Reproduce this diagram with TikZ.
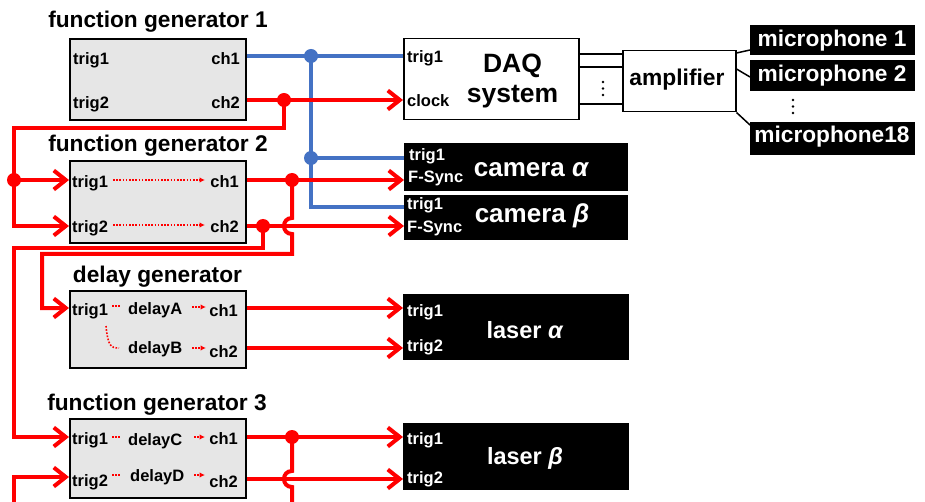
\documentclass[tikz,border=0pt]{standalone}
\usepackage{fontspec}
\setmainfont{Liberation Sans}
\usetikzlibrary{arrows.meta}
\definecolor{sigred}{RGB}{255,0,0}
\definecolor{sigblue}{RGB}{68,114,196}
\definecolor{boxgray}{RGB}{230,230,230}
\newcommand{\fsz}[1]{\fontsize{#1}{#1}\selectfont\bfseries}
\begin{document}
\begin{tikzpicture}[x=1pt,y=-1pt,
  devbox/.style={draw=black, line width=2pt, fill=boxgray, anchor=north west, inner sep=0, minimum width=176pt},
  whitebox/.style={draw=black, line width=1.5pt, fill=white, anchor=north west, inner sep=0},
  blackbox/.style={fill=black, anchor=north west, inner sep=0},
  heading/.style={font=\fsz{22.7}, inner sep=0, anchor=base},
  port/.style={font=\fsz{16.5}, inner sep=0},
  portl/.style={port, anchor=base west},
  portr/.style={port, anchor=base east},
  wport/.style={portl, text=white},
  bigw/.style={inner sep=0, anchor=base, text=white},
  sig/.style={draw=sigred, line width=4pt},
  trg/.style={draw=sigblue, line width=3.5pt},
  arr/.style={-{Straight Barb[length=12pt,width=19pt]}},
  dotsig/.style={draw=sigred, line width=1.6pt, dash pattern=on 1.6pt off 1.6pt},
  dotarr/.style={dotsig, -{Latex[length=5.5pt,width=5.5pt]}},
  wire/.style={draw=black, line width=1.5pt},
]
\path[use as bounding box, fill=white] (0,0) rectangle (925,502);

% ---------- devices ----------
\node[devbox, minimum height=81pt] (fg1) at (69,38) {};
\node[devbox, minimum height=82pt] (fg2) at (69,160) {};
\node[devbox, minimum height=77pt] (dg) at (69,290) {};
\node[devbox, minimum height=79pt] (fg3) at (69,418) {};
\node[whitebox, minimum width=175pt, minimum height=81pt] (daq) at (403,38) {};
\node[whitebox, minimum width=113pt, minimum height=61pt] (amp) at (622,50) {};
\node[blackbox, minimum width=165pt, minimum height=30pt] (mic1) at (750,25) {};
\node[blackbox, minimum width=165pt, minimum height=31pt] (mic2) at (750,60) {};
\node[blackbox, minimum width=165pt, minimum height=33pt] (mic18) at (750,122) {};
\node[blackbox, minimum width=224pt, minimum height=48pt] (camA) at (404,143) {};
\node[blackbox, minimum width=224pt, minimum height=45pt] (camB) at (404,195) {};
\node[blackbox, minimum width=226pt, minimum height=66pt] (lasA) at (403,294) {};
\node[blackbox, minimum width=226pt, minimum height=67pt] (lasB) at (403,423) {};

% ---------- headings ----------
\node[heading] (h1) at (158,28) {function generator 1};
\node[heading] (h2) at (158,152) {function generator 2};
\node[heading] (h3) at (157.5,283) {delay generator};
\node[heading] (h4) at (157,410) {function generator 3};

% ---------- function generator 1 ----------
\node[portl] (g1i1) at (73,65) {trig1};
\node[portr] (g1o1) at (240,65) {ch1};
\node[portl] (g1i2) at (73,109) {trig2};
\node[portr] (g1o2) at (240,109) {ch2};

% ---------- function generator 2 ----------
\node[portl] (g2i1) at (72,188) {trig1};
\node[portr] (g2o1) at (239,188) {ch1};
\node[portl] (g2i2) at (72,233) {trig2};
\node[portr] (g2o2) at (239,233) {ch2};
\draw[dotarr] (113,180) -- (205,180);
\draw[dotarr] (113,225) -- (205,225);

% ---------- delay generator ----------
\node[portl] (dgi1) at (72,315) {trig1};
\node[portl] (dgA) at (128,314) {delayA};
\node[portr] (dgo1) at (238,316) {ch1};
\node[portl] (dgB) at (128,353) {delayB};
\node[portr] (dgo2) at (238,357) {ch2};
\draw[dotsig] (112,306) -- (121,306);
\draw[dotarr] (192,307) -- (206,307);
\draw[dotsig] (106,326) .. controls (108,345) and (110,348) .. (119,348);
\draw[dotarr] (192,348) -- (206,348);

% ---------- function generator 3 ----------
\node[portl] (g3i1) at (72,444) {trig1};
\node[portl] (g3C) at (128,445) {delayC};
\node[portr] (g3o1) at (238,444) {ch1};
\node[portl] (g3i2) at (72,486) {trig2};
\node[portl] (g3D) at (130,481) {delayD};
\node[portr] (g3o2) at (238,487) {ch2};
\draw[dotsig] (112,437) -- (121,437);
\draw[dotarr] (194,437) -- (205,437);
\draw[dotsig] (112,475) -- (121,475);
\draw[dotarr] (194,475) -- (205,475);

% ---------- DAQ system ----------
\node[portl] (dqi1) at (407,63) {trig1};
\node[portl] (dqclk) at (407,107) {clock};
\node[inner sep=0, anchor=base, font=\fsz{26.5}] (dq1) at (512.5,73) {DAQ};
\node[inner sep=0, anchor=base, font=\fsz{26.5}] (dq2) at (512.5,103) {system};

% ---------- amplifier and microphones ----------
\node[inner sep=0, anchor=base, font=\fsz{22.8}] (ampl) at (677,86) {amplifier};
\node[bigw, font=\fsz{22.7}] (m1) at (832,47) {microphone 1};
\node[bigw, font=\fsz{22.7}] (m2) at (832,82) {microphone 2};
\node[bigw, font=\fsz{22.7}] (m18) at (832,143) {microphone18};

% ---------- cameras ----------
\node[wport] (cai1) at (409,161) {trig1};
\node[wport] (cafs) at (408,183) {F-Sync};
\node[bigw, font=\fsz{26}] (cal) at (531.5,177) {camera \textit{α}};
\node[wport] (cbi1) at (407,210) {trig1};
\node[wport] (cbfs) at (407,233) {F-Sync};
\node[bigw, font=\fsz{26}] (cbl) at (532,223) {camera \textit{β}};

% ---------- lasers ----------
\node[wport] (lai1) at (407,316) {trig1};
\node[wport] (lai2) at (407,351) {trig2};
\node[bigw, font=\fsz{23.5}] (lal) at (525,338) {laser \textit{α}};
\node[wport] (lbi1) at (407,444) {trig1};
\node[wport] (lbi2) at (407,483) {trig2};
\node[bigw, font=\fsz{23.5}] (lbl) at (525,464) {laser \textit{β}};

% ---------- DAQ to amplifier to microphones ----------
\draw[wire] (daq.east |- 0,54) -- (amp.west |- 0,54);
\draw[wire] (daq.east |- 0,67) -- (amp.west |- 0,67);
\draw[wire] (daq.east |- 0,104) -- (amp.west |- 0,104);
\draw[wire] (amp.east |- 0,53) -- (mic1.west |- 0,50);
\draw[wire] (amp.east |- 0,69) -- (mic2.west |- 0,77);
\draw[wire] (amp.south east) -- (mic18.west |- 0,125);
\foreach \yy in {82,88.5,95} \fill (603,\yy) circle (1.3pt);
\foreach \yy in {100,106.5,113} \fill (793,\yy) circle (1.3pt);

% ---------- junctions ----------
\coordinate (bj1) at (311,56);
\coordinate (bj2) at (311,158);
\coordinate (bc) at (311,207);
\coordinate (rj1) at (284,100);
\coordinate (lj) at (14,180);
\coordinate (rj2) at (292,180);
\coordinate (rj3) at (263,226);
\coordinate (rj4) at (292,437);

% ---------- trigger lines (blue) ----------
\draw[trg] (fg1.east |- bj1) -- (daq.west |- bj1);
\draw[trg] (bj1) -- (bc) -- (camB.west |- bc);
\draw[trg] (bj2) -- (camA.west |- bj2);

% ---------- signal lines (red) ----------
\draw[sig, arr] (fg1.east |- rj1) -- (daq.west |- rj1);
\draw[sig, arr] (rj1) -- (284,128) -| (14,226) -- (fg2.west |- 0,226);
\draw[sig, arr] (lj) -- (fg2.west |- lj);

\draw[sig, arr] (fg2.east |- rj2) -- (camA.west |- rj2);
\draw[sig, arr] (fg2.east |- rj3) -- (camB.west |- rj3);
\draw[sig, arr] (rj3) |- (14,248) -- (14,437) -- (fg3.west |- 0,437);
\draw[sig, arr] (rj2) -- (292,218) .. controls (281.3,218) and (281.3,234) .. (292,234)
   -- (292,254) -- (42,254) -- (42,308) -- (dg.west |- 0,308);

\draw[sig, arr] (dg.east |- 0,308) -- (lasA.west |- 0,308);
\draw[sig, arr] (dg.east |- 0,348) -- (lasA.west |- 0,348);

\draw[sig, arr] (fg3.east |- rj4) -- (lasB.west |- rj4);
\draw[sig, arr] (fg3.east |- 0,479) -- (lasB.west |- 0,479);
\draw[sig] (rj4) -- (292,471) .. controls (281.3,471) and (281.3,487) .. (292,487) -- (292,503);
\draw[sig, arr] (14,503) -- (14,477) -- (fg3.west |- 0,477);

% ---------- junction dots ----------
\fill[sigblue] (bj1) circle (7pt);
\fill[sigblue] (bj2) circle (7pt);
\fill[sigred] (rj1) circle (7pt);
\fill[sigred] (lj) circle (7pt);
\fill[sigred] (rj2) circle (7pt);
\fill[sigred] (rj3) circle (7pt);
\fill[sigred] (rj4) circle (7pt);
\end{tikzpicture}
\end{document}
